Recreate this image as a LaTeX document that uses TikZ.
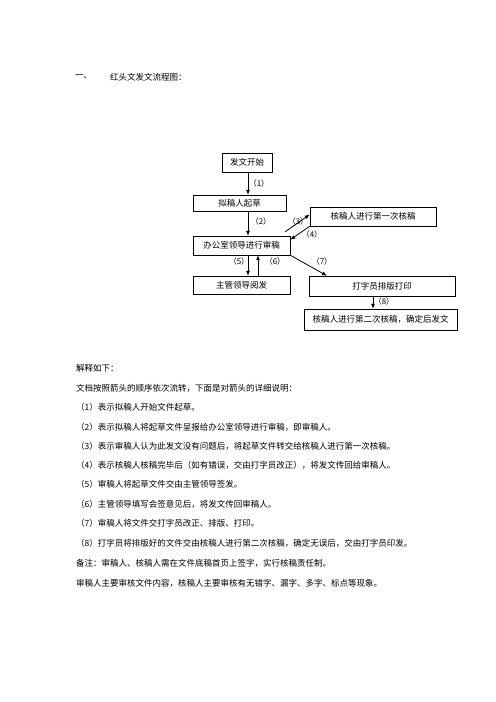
\documentclass[tikz,border=0pt]{standalone}
\usepackage{fontspec}
\setmainfont{Noto Sans CJK SC}
\usetikzlibrary{arrows.meta}

\begin{document}
\begin{tikzpicture}[
  x=1bp, y=-1bp,
  every node/.style={font=\fontsize{8.5bp}{10bp}\selectfont, inner sep=0pt},
  box/.style={draw, thin},
  arr/.style={thick, -{Latex[length=5pt,width=4pt]}},
  lbl/.style={font=\fontsize{8bp}{10bp}\selectfont},
  txt/.style={anchor=west},
]
\useasboundingbox (0,0) rectangle (496,702);

\node [txt] (h1) at (75,77) {一、};
\node [txt] (h2) at (110,77) {红头文发文流程图：};

\node [box, minimum width=50bp, minimum height=18.5bp] (start) at (247,162.5) {发文开始};
\node [box, minimum width=93bp, minimum height=16bp] (draft) at (239.5,203) {拟稿人起草};
\node [box, minimum width=126bp, minimum height=19bp] (check1) at (373,216.5) {核稿人进行第一次核稿};
\node [box, minimum width=97bp, minimum height=19bp] (review) at (241.5,245.5) {办公室领导进行审稿};
\node [box, minimum width=97bp, minimum height=18bp] (sign) at (241.5,285) {主管领导阅发};
\node [box, minimum width=146bp, minimum height=20bp] (print) at (382,286) {打字员排版打印};
\node [box, minimum width=153bp, minimum height=21bp] (check2) at (380.5,319.5) {核稿人进行第二次核稿，确定后发文};

\coordinate (c1) at (248,0);
\coordinate (c6) at (258,0);
\coordinate (c7) at (327,0);
\coordinate (c8) at (373,0);

\draw [arr] (start.south -| c1) -- (draft.north -| c1);
\draw [arr] (draft.south -| c1) -- (review.north -| c1);
\draw [arr] ([xshift=-5bp, yshift=4bp]review.north east) -- ([yshift=2bp]check1.west);
\draw [arr] (check1.south west) -- ([yshift=-4bp]review.north east);
\draw [arr] (review.south -| c1) -- (sign.north -| c1);
\draw [arr] (sign.north -| c6) -- (review.south -| c6);
\draw [arr] (review.south east) -- (print.north -| c7);
\draw [arr] (print.south -| c8) -- (check2.north -| c8);

\node [lbl] (l1) at (259,183) {（1）};
\node [lbl] (l2) at (261,221) {（2）};
\node [lbl] (l3) at (298,221) {（3）};
\node [lbl] (l4) at (312,234) {（4）};
\node [lbl] (l5) at (239,261) {（5）};
\node [lbl] (l6) at (275,261) {（6）};
\node [lbl] (l7) at (322,261) {（7）};
\node [lbl] (l8) at (384,301.5) {（8）};

\node [txt] (t0) at (76,368) {解释如下：};
\node [txt] (t1) at (76,388) {文档按照箭头的顺序依次流转，下面是对箭头的详细说明：};
\node [txt] (t2) at (76,407) {（1）表示拟稿人开始文件起草。};
\node [txt] (t3) at (76,427) {（2）表示拟稿人将起草文件呈报给办公室领导进行审稿，即审稿人。};
\node [txt] (t4) at (76,446) {（3）表示审稿人认为此发文没有问题后，将起草文件转交给核稿人进行第一次核稿。};
\node [txt] (t5) at (76,465) {（4）表示核稿人核稿完毕后（如有错误，交由打字员改正），将发文传回给审稿人。};
\node [txt] (t6) at (76,484) {（5）审稿人将起草文件交由主管领导签发。};
\node [txt] (t7) at (76,504) {（6）主管领导填写会签意见后，将发文传回审稿人。};
\node [txt] (t8) at (76,523) {（7）审稿人将文件交打字员改正、排版、打印。};
\node [txt] (t9) at (76,543) {（8）打字员将排版好的文件交由核稿人进行第二次核稿，确定无误后，交由打字员印发。};
\node [txt] (t10) at (76,563) {备注：审稿人、核稿人需在文件底稿首页上签字，实行核稿责任制。};
\node [txt] (t11) at (76,583) {审稿人主要审核文件内容，核稿人主要审核有无错字、漏字、多字、标点等现象。};
\end{tikzpicture}
\end{document}
